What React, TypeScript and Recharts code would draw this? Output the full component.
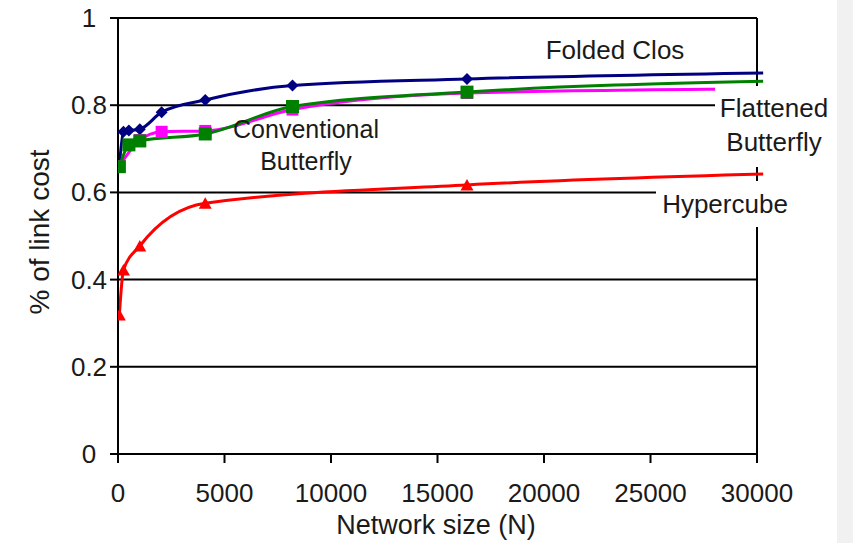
import React from 'react';
import { LineChart, Line, XAxis, YAxis, ReferenceLine, Label } from 'recharts';

// network sizes (N) and share of link cost
const foldedClosSizes = [64, 256, 512, 1024, 2048, 4096, 8192, 16384, 30300];
const foldedClosCost = [0.66, 0.739, 0.742, 0.745, 0.784, 0.812, 0.845, 0.86, 0.874];

const conventionalSizes = [64, 1024, 2048, 4096, 8192, 16384, 30300];
const conventionalCost = [0.66, 0.72, 0.739, 0.741, 0.79, 0.828, 0.838];

const flattenedSizes = [64, 512, 1024, 4096, 8192, 16384, 30300];
const flattenedCost = [0.659, 0.709, 0.718, 0.734, 0.797, 0.83, 0.855];

const hypercubeSizes = [64, 256, 1024, 4096, 16384, 30300];
const hypercubeCost = [0.319, 0.422, 0.477, 0.575, 0.617, 0.642];

const xTicks = [0, 5000, 10000, 15000, 20000, 25000, 30000];
const yTicks = [0, 0.2, 0.4, 0.6, 0.8, 1];
const gridValues = [0.2, 0.4, 0.6, 0.8];
const xMax = 30000;

const FONT = '"Liberation Sans", Arial, sans-serif';
const INK = '#1a1a1a';

const toPoints = (sizes: number[], costs: number[]) =>
  sizes.map((n, i) => ({ n, cost: costs[i] }));

type Shape = 'diamond' | 'square' | 'triangle';

// markers on every point except the last one (the line just runs on)
const makeDot = (shape: Shape, color: string, count: number, size: number) => (props: any) => {
  const { cx, cy, index } = props;
  const key = `${shape}-${color}-${index}`;
  if (index === count - 1 || cx == null || cy == null) return <g key={key} />;
  const h = size / 2;
  if (shape === 'diamond') {
    return (
      <polygon
        key={key}
        points={`${cx},${cy - h} ${cx + h},${cy} ${cx},${cy + h} ${cx - h},${cy}`}
        fill={color}
      />
    );
  }
  if (shape === 'triangle') {
    return (
      <polygon
        key={key}
        points={`${cx},${cy - h + 0.5} ${cx + h},${cy + h - 1} ${cx - h},${cy + h - 1}`}
        fill={color}
      />
    );
  }
  return <rect key={key} x={cx - h} y={cy - h} width={size} height={size} fill={color} />;
};

const YTick = (props: any) => {
  const { x, y, payload } = props;
  return (
    <text x={x - 19} y={y + 9} textAnchor="middle" fill={INK} fontSize={26} fontFamily={FONT}>
      {payload.value}
    </text>
  );
};

const XTick = (props: any) => {
  const { x, y, payload } = props;
  return (
    <text x={x} y={y + 37} textAnchor="middle" fill={INK} fontSize={26} fontFamily={FONT}>
      {payload.value}
    </text>
  );
};

const YTitle = (props: any) => {
  const vb = props.viewBox || { x: 0, y: 18, height: 436 };
  const cx = vb.x + 49;
  const cy = vb.y + vb.height / 2 - 4;
  return (
    <text
      x={cx}
      y={cy}
      transform={`rotate(-90, ${cx}, ${cy})`}
      textAnchor="middle"
      fill={INK}
      fontSize={28}
      fontFamily={FONT}
    >
      % of link cost
    </text>
  );
};

const XTitle = () => (
  <text x={436} y={534} textAnchor="middle" fill={INK} fontSize={27} fontFamily={FONT}>
    Network size (N)
  </text>
);

const labelStyle: React.CSSProperties = {
  position: 'absolute',
  fontFamily: FONT,
  fontSize: 26,
  color: INK,
  textAlign: 'center',
  whiteSpace: 'nowrap',
};

export default function App() {
  const axisStroke = { stroke: '#000', strokeWidth: 2 };
  return (
    <div
      style={{
        position: 'absolute',
        left: 0,
        top: 0,
        width: 853,
        height: 543,
        background: '#f1f1f1',
        overflow: 'hidden',
      }}
    >
      <div style={{ position: 'absolute', left: 0, top: 0, width: 837, height: 543, background: '#fff' }}>
        <LineChart width={837} height={543} margin={{ top: 18, right: 73.6, bottom: 0, left: 0 }}>
          <XAxis
            type="number"
            dataKey="n"
            domain={[0, 30300]}
            allowDataOverflow
            ticks={xTicks}
            interval={0}
            height={89}
            axisLine={false}
            tickLine={axisStroke}
            tickSize={9}
            tick={<XTick />}
          >
            <Label content={<XTitle />} />
          </XAxis>
          <YAxis
            type="number"
            domain={[0, 1]}
            ticks={yTicks}
            interval={0}
            width={118}
            axisLine={axisStroke}
            tickLine={axisStroke}
            tickSize={8}
            tick={<YTick />}
          >
            <Label content={<YTitle />} />
          </YAxis>

          {gridValues.map((v) => (
            <ReferenceLine
              key={`g-${v}`}
              segment={[
                { x: 0, y: v },
                { x: xMax, y: v },
              ]}
              stroke="#000"
              strokeWidth={2}
            />
          ))}
          <ReferenceLine segment={[{ x: 0, y: 0 }, { x: xMax, y: 0 }]} stroke="#000" strokeWidth={2} />
          <ReferenceLine segment={[{ x: 0, y: 1 }, { x: xMax, y: 1 }]} stroke="#000" strokeWidth={2} />
          <ReferenceLine segment={[{ x: xMax, y: 0 }, { x: xMax, y: 1 }]} stroke="#000" strokeWidth={2} />

          <Line
            data={toPoints(foldedClosSizes, foldedClosCost)}
            dataKey="cost"
            type="monotone"
            stroke="#000080"
            strokeWidth={3}
            dot={makeDot('diamond', '#000080', foldedClosSizes.length, 12)}
            activeDot={false}
            isAnimationActive={false}
          />
          <Line
            data={toPoints(conventionalSizes, conventionalCost)}
            dataKey="cost"
            type="monotone"
            stroke="#ff00ff"
            strokeWidth={3}
            dot={makeDot('square', '#ff00ff', conventionalSizes.length, 12)}
            activeDot={false}
            isAnimationActive={false}
          />
          <Line
            data={toPoints(flattenedSizes, flattenedCost)}
            dataKey="cost"
            type="monotone"
            stroke="#008000"
            strokeWidth={3}
            dot={makeDot('square', '#008000', flattenedSizes.length, 13)}
            activeDot={false}
            isAnimationActive={false}
          />
          <Line
            data={toPoints(hypercubeSizes, hypercubeCost)}
            dataKey="cost"
            type="monotone"
            stroke="#ff0000"
            strokeWidth={3}
            dot={makeDot('triangle', '#ff0000', hypercubeSizes.length, 13)}
            activeDot={false}
            isAnimationActive={false}
          />
        </LineChart>

        <div style={{ ...labelStyle, left: 515, top: 33, width: 200, lineHeight: '34px' }}>Folded Clos</div>
        <div style={{ ...labelStyle, left: 206, top: 113, width: 200, fontSize: 25, lineHeight: '32px' }}>
          Conventional
          <br />
          Butterfly
        </div>
        <div
          style={{
            ...labelStyle,
            left: 715,
            top: 86,
            width: 118,
            height: 81,
            paddingTop: 5,
            boxSizing: 'border-box',
            lineHeight: '34px',
            background: '#fff',
          }}
        >
          Flattened
          <br />
          Butterfly
        </div>
        <div
          style={{
            ...labelStyle,
            left: 656,
            top: 181,
            width: 138,
            height: 46,
            paddingTop: 6,
            boxSizing: 'border-box',
            lineHeight: '34px',
            background: '#fff',
          }}
        >
          Hypercube
        </div>
      </div>
    </div>
  );
}
